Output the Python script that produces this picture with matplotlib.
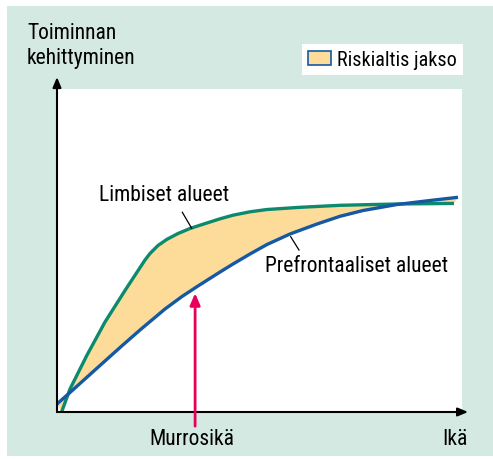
import matplotlib.pyplot as plt
from matplotlib.patches import Rectangle, Patch

# curve points (x: age, y: development, 0..100 scale)
limbic_x = [1.16, 3.21, 7.33, 11.85, 16.79, 21.73, 22.96, 24.94, 27.16, 29.88, 32.84, 35.31,
            40.25, 43.46, 47.65, 51.85, 60.00, 69.88, 83.95, 98.02]
limbic_y = [0.09, 7.12, 17.43, 27.86, 37.62, 47.06, 49.07, 51.55, 53.47, 55.26, 56.81, 57.83,
            59.81, 60.93, 61.98, 62.69, 63.37, 63.99, 64.40, 64.58]
prefr_x = [0.0, 3.21, 7.73, 11.85, 15.98, 20.49, 26.67, 30.86, 34.81, 40.25, 43.46, 47.65,
           51.85, 57.53, 64.20, 69.88, 75.56, 83.95, 92.10, 99.01]
prefr_y = [2.48, 6.04, 11.15, 15.79, 20.43, 25.39, 31.89, 35.76, 39.01, 43.34, 45.82, 48.92,
           51.86, 55.11, 58.20, 60.59, 62.38, 64.24, 65.48, 66.47]
puberty_x = 34.1
puberty_tip = 36.8

title_lines = "Toiminnan\nkehittyminen"
legend_label = "Riskialtis jakso"
limbic_label = "Limbiset alueet"
prefr_label = "Prefrontaaliset alueet"
xlabel_mid = "Murrosikä"
xlabel_end = "Ikä"

W, H = 493, 460
def px(x, y):
    return x / W, 1 - y / H

plt.rcParams['font.family'] = ['Roboto Condensed', 'Liberation Sans Narrow', 'Lato', 'DejaVu Sans']

fig = plt.figure(figsize=(W / 100, H / 100), dpi=100)
fig.patch.set_facecolor('white')
fig.patches.append(Rectangle(px(7, 457), 486 / W, 450 / H, transform=fig.transFigure,
                             facecolor='#d5e9e3', edgecolor='none', zorder=-5))

ax = fig.add_axes([57 / W, 47 / H, 405 / W, 323 / H])
ax.set_zorder(1)
ax.set_xlim(0, 100)
ax.set_ylim(0, 100)
ax.set_facecolor('white')
for s in ax.spines.values():
    s.set_visible(False)
ax.set_xticks([])
ax.set_yticks([])

green = '#0c8a6e'
blue = '#1558a4'
fillc = '#fddc9a'

ax.fill(limbic_x + prefr_x[::-1], limbic_y + prefr_y[::-1], color=fillc, lw=0, zorder=1)
ax.plot(limbic_x, limbic_y, color=green, lw=2.4, zorder=3, solid_capstyle='butt',
        solid_joinstyle='round')
ax.plot(prefr_x, prefr_y, color=blue, lw=2.4, zorder=3, solid_capstyle='butt',
        solid_joinstyle='round')

# axes arrows
ax.annotate('', xy=(0, 103.7), xytext=(0, 0), annotation_clip=False,
            arrowprops=dict(arrowstyle='-|>,head_length=0.6,head_width=0.25', color='black', lw=1.5,
                            shrinkA=0, shrinkB=0))
ax.annotate('', xy=(101.5, 0), xytext=(0, 0), annotation_clip=False,
            arrowprops=dict(arrowstyle='-|>,head_length=0.6,head_width=0.25', color='black', lw=1.5,
                            shrinkA=0, shrinkB=0))

# puberty arrow
ax.annotate('', xy=(puberty_x, puberty_tip), xytext=(puberty_x, -4.4), annotation_clip=False,
            arrowprops=dict(arrowstyle='-|>,head_length=0.7,head_width=0.3', color='#e6005c', lw=2,
                            shrinkA=0, shrinkB=0))

# leader lines
ax.plot([30.94, 33.26], [61.83, 56.87], color='black', lw=0.9, zorder=4)
ax.plot([57.70, 59.75], [54.27, 50.15], color='black', lw=0.9, zorder=4)

fs = 15.5
ax.text(26.4, 67.2, limbic_label, ha='center', va='center', fontsize=fs)
ax.text(51.4, 45.4, prefr_label, ha='left', va='center', fontsize=fs)

fig.text(*px(27, 46), title_lines, ha='left', va='center', fontsize=fs, linespacing=1.3)
fig.text(*px(192, 440), xlabel_mid, ha='center', va='center', fontsize=fs)
fig.text(*px(455, 440), xlabel_end, ha='center', va='center', fontsize=fs)

leg = fig.legend(handles=[Patch(facecolor=fillc, edgecolor=blue, lw=1.2, label=legend_label)],
                 loc='upper right', bbox_to_anchor=px(463, 45), fontsize=14.5, frameon=True,
                 fancybox=False, borderpad=0.3, handlelength=1.15, handleheight=0.75,
                 handletextpad=0.3, borderaxespad=0)
leg.get_frame().set_edgecolor('none')
leg.get_frame().set_facecolor('white')
leg.get_frame().set_alpha(1)

fig.savefig('out.png', dpi=100)
